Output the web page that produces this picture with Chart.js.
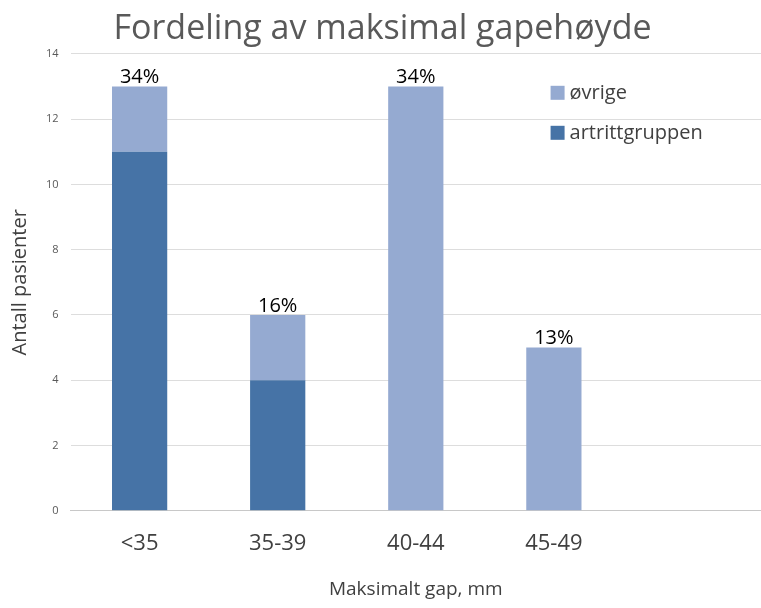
<!DOCTYPE html>
<html>
<head>
<meta charset="utf-8">
<script src="https://cdn.jsdelivr.net/npm/chart.js@4/dist/chart.umd.min.js"></script>
<style>
  html, body { margin: 0; padding: 0; background: #fff; }
  #boks { width: 761px; height: 608px; }
</style>
</head>
<body>
<div id="boks"><canvas id="graf"></canvas></div>
<script>
// Data lest av figuren
var kategorier = ['<35', '35-39', '40-44', '45-49', ''];
var artrittgruppen = [11, 4, 0, 0, null];
var ovrige = [2, 2, 13, 5, null];
var andeler = ['34%', '16%', '34%', '13%', ''];
var yTicks = [0, 2, 4, 6, 8, 10, 12, 14];

var FARGE_MORK = '#4673A6';
var FARGE_LYS = '#95AAD1';
var SKRIFT = '"Open Sans", "DejaVu Sans", sans-serif';

// prosent over hver stabel
var prosentPlugin = {
  id: 'prosent',
  afterDatasetsDraw: function (chart) {
    var ctx = chart.ctx;
    var topp = chart.getDatasetMeta(1);
    ctx.save();
    ctx.fillStyle = '#000';
    ctx.font = '20px ' + SKRIFT;
    ctx.textAlign = 'center';
    ctx.textBaseline = 'bottom';
    topp.data.forEach(function (bar, i) {
      if (!andeler[i]) return;
      ctx.fillText(andeler[i], bar.x, bar.y + 1);
    });
    ctx.restore();
  }
};

// legende inne i plottet, oppe til hoyre
var legendePlugin = {
  id: 'egenLegende',
  afterDraw: function (chart) {
    var ctx = chart.ctx;
    var a = chart.chartArea;
    var rader = [
      { tekst: 'øvrige', farge: FARGE_LYS },
      { tekst: 'artrittgruppen', farge: FARGE_MORK }
    ];
    ctx.save();
    ctx.font = '20px ' + SKRIFT;
    ctx.textBaseline = 'middle';
    rader.forEach(function (r, i) {
      var y = a.top + 39 + i * 40;
      var x = a.left + 487;
      ctx.fillStyle = r.farge;
      ctx.fillRect(x - 7, y - 7, 14, 14);
      ctx.fillStyle = '#404040';
      ctx.fillText(r.tekst, x + 12, y);
    });
    ctx.restore();
  }
};

new Chart(document.getElementById('graf'), {
  type: 'bar',
  data: {
    labels: kategorier,
    datasets: [
      { label: 'artrittgruppen', data: artrittgruppen, backgroundColor: FARGE_MORK, categoryPercentage: 1, barPercentage: 0.4 },
      { label: 'øvrige', data: ovrige, backgroundColor: FARGE_LYS, categoryPercentage: 1, barPercentage: 0.4 }
    ]
  },
  options: {
    responsive: true,
    maintainAspectRatio: false,
    animation: false,
    layout: { padding: { top: 0, right: 0, left: 4, bottom: 3 } },
    plugins: {
      legend: { display: false },
      tooltip: { enabled: false },
      title: {
        display: true,
        text: 'Fordeling av maksimal gapehøyde',
        color: '#595959',
        font: { family: SKRIFT, size: 34, weight: 'normal' },
        padding: { top: 9, bottom: 4 }
      }
    },
    scales: {
      x: {
        stacked: true,
        grid: { display: false },
        border: { color: '#c8c8c8' },
        ticks: { color: '#404040', font: { family: SKRIFT, size: 22 }, padding: 12 },
        title: { display: true, text: 'Maksimalt gap, mm', color: '#404040', font: { family: SKRIFT, size: 19 }, padding: { top: 9 } }
      },
      y: {
        stacked: true,
        min: 0,
        max: 14,
        afterBuildTicks: function (skala) {
          skala.ticks = yTicks.map(function (v) { return { value: v }; });
        },
        grid: { color: '#dddddd', drawTicks: false },
        border: { display: false },
        ticks: { color: '#595959', font: { family: SKRIFT, size: 11 }, padding: 12 },
        title: { display: true, text: 'Antall pasienter', color: '#404040', font: { family: SKRIFT, size: 20 }, padding: { bottom: 2 } }
      }
    }
  },
  plugins: [prosentPlugin, legendePlugin]
});
</script>
</body>
</html>
